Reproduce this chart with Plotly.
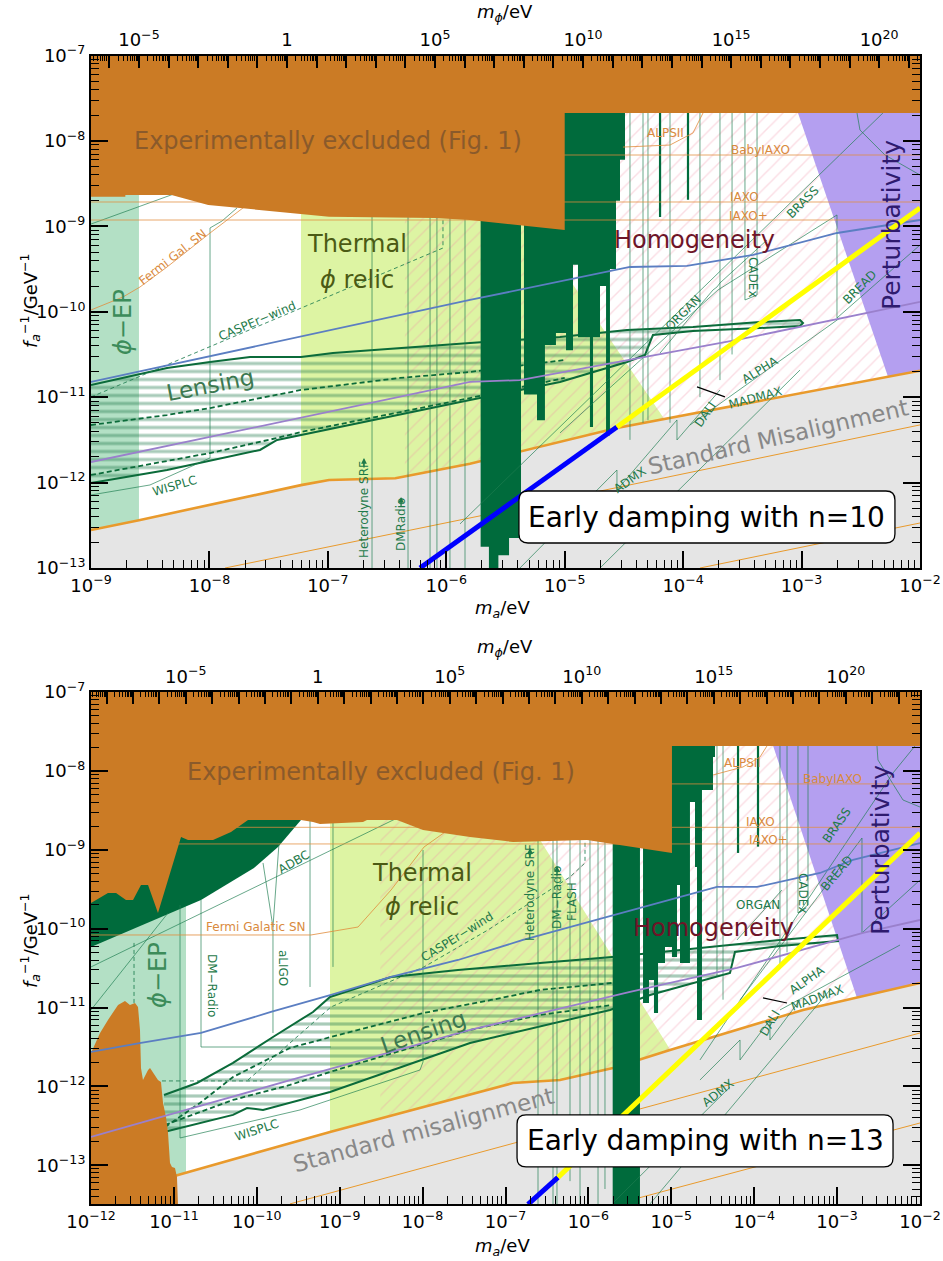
import numpy as np
import plotly.graph_objects as go

# All values are log10: lm = log10(m_a / eV), lf = log10(f_a^-1 / GeV^-1)

# ---------------- upper panel (n = 10) ----------------
TOP_XR, TOP_YR = (-9.0, -2.0), (-13.0, -7.0)
TOP_PHI = (4.0, 29.38)          # log10 m_phi = a * lm + b

TOP_EXCL_LM = [-9.0, -8.71, -8.71, -8.32, -8.01, -6.99, -6.10, -5.80, -5.00, -5.00, -2.0]
TOP_EXCL_LF = [-8.653, -8.653, -8.633, -8.633, -8.75, -8.887, -8.902, -8.926, -9.043, -7.673, -7.673]

TOP_MIS_LM = [-9.0, -8.595, -7.227, -6.99, -6.43, -5.80, -4.56, -2.0]
TOP_MIS_LF = [-12.555, -12.44, -12.03, -11.97, -11.95, -11.78, -11.36, -10.69]
TOP_THIN_A = ([-7.868, -5.80, -2.0], [-13.0, -12.414, -11.325])
TOP_THIN_B = ([-3.858, -2.0], [-13.0, -12.473])

TOP_EP = (-9.0, -8.595)
TOP_THERM_LM = [-7.227, -7.227, -6.245, -3.304]
TOP_THERM_LF = [-13.0, -7.0, -7.0, -13.0]
TOP_HOMOG_LEFT = -6.35
TOP_PERT_LM = [-3.196, -2.0, -2.0, -2.27]
TOP_PERT_LF = [-7.0, -7.0, -10.69, -10.76]

TOP_HALO_EDGES = [-5.710, -5.64, -5.56, -5.47, -5.369, -5.344, -5.234, -5.167, -5.074, -4.989,
                  -4.930, -4.888, -4.787, -4.761, -4.702, -4.651, -4.618, -4.567, -4.533, -4.491]
TOP_HALO_FLOORS = [-12.75, -13.0, -12.85, -12.65, -7.0, -10.97, -11.27, -10.39, -10.25,
                   -10.45, -9.45, -10.30, -11.35, -10.30, -9.70, -11.45, -9.50, -8.70, -8.22]
TOP_HALO_THIN = [(-4.195, -7.673, -8.89), (-3.959, -7.673, -8.69)]

TOP_LENS_LM = [-9.0, -8.358, -7.995, -7.657, -7.227, -6.957, -5.80, -5.04, -4.474, -3.917, -3.351,
               -3.013, -2.988, -3.013, -3.351, -3.917, -4.255, -4.322, -4.474, -5.04, -5.80, -7.227,
               -7.429, -7.573, -8.358, -9.0]
TOP_LENS_LF = [-10.857, -10.659, -10.588, -10.53, -10.53, -10.483, -10.366, -10.295, -10.213, -10.178,
               -10.12, -10.096, -10.131, -10.166, -10.19, -10.225, -10.272, -10.506, -10.588, -10.822,
               -11.033, -11.443, -11.501, -11.618, -11.853, -12.005]
TOP_DASH_A = ([-9.0, -8.358, -7.995, -7.227, -6.391, -5.80, -5.0],
              [-11.326, -11.209, -11.127, -10.916, -10.775, -10.705, -10.565])
TOP_DASH_B = ([-9.0, -7.995, -7.429, -7.227, -5.80, -5.0],
              [-11.911, -11.654, -11.478, -11.408, -11.01, -10.775])
TOP_CASPER = ([-9.0, -6.028, -6.028], [-10.998, -9.254, -8.891])
TOP_FERMI = ([-9.0, -8.73, -8.586, -8.358, -7.995, -7.717, -7.573],
             [-9.979, -9.827, -9.71, -9.476, -9.078, -8.785, -8.657])
TOP_WISPLC = ([-9.0, -8.502, -7.995, -7.995, -7.894, -7.767],
              [-12.145, -12.028, -11.712, -9.019, -8.938, -8.785])
TOP_ADBC = ([-9.0, -8.316, -7.8], [-8.973, -8.633, -8.37])
TOP_VERT = [(-6.627, -8.6, -13.0), (-6.323, -8.6, -13.0), (-6.137, -8.6, -13.0), (-6.079, -8.6, -13.0),
            (-5.969, -8.6, -13.0), (-5.842, -8.6, -13.0), (-4.449, -7.673, -11.5), (-4.339, -7.673, -11.3),
            (-4.297, -7.673, -11.27), (-4.111, -7.673, -11.3), (-3.858, -7.673, -11.0),
            (-3.689, -7.673, -10.8), (-3.587, -7.673, -10.5)]
TOP_PROJ = [
    ([-3.478, -3.478, -3.376, -3.376], [-7.673, -9.862, -9.804, -7.673]),          # CADEx
    ([-5.884, -2.313], [-12.484, -7.673]),                                          # BRASS
    ([-5.04, -3.706, -2.701, -2.701, -2.0], [-11.419, -9.745, -8.867, -10.073, -9.219]),  # BREAD
    ([-5.378, -4.559, -4.559, -4.052, -4.052, -3.689],
     [-13.0, -11.853, -12.087, -11.267, -11.501, -10.916]),                         # ADMX
    ([-4.702, -3.013], [-13.0, -10.682]),                                           # DALI
    ([-3.942, -2.676], [-11.326, -10.073]),                                         # ALPHA
    ([-4.195, -3.748, -3.714, -3.689, -3.292], [-10.483, -9.745, -9.71, -9.663, -9.16]),  # ORGAN
    ([-2.532, -2.507, -2.296, -2.0], [-7.673, -7.872, -8.165, -8.399]),
]
TOP_MADMAX_TICK = ([-3.883, -3.647], [-10.88, -10.997])
TOP_ALPS = ([-4.508, -4.111, -3.917, -3.832], [-8.072, -8.048, -7.907, -7.673])

TOP_BLUE = ([-9.0, -7.227, -5.80, -4.449, -3.968, -3.41, -2.70, -2.0],
            [-10.822, -10.295, -9.862, -9.476, -9.464, -9.335, -9.078, -8.926])
TOP_PURPLE = ([-9.0, -7.227, -5.80, -5.378, -4.474, -3.545, -2.0],
              [-11.759, -11.244, -10.822, -10.80, -10.565, -10.33, -9.885])
TOP_DAMP = ([-6.222, -4.559, -2.0], [-13.0, -11.35, -8.785])

# ---------------- lower panel (n = 13) ----------------
BOT_XR, BOT_YR = (-12.0, -2.0), (-13.49, -7.0)
BOT_PHI = (3.14, 29.09)

BOT_EXCL_LM = [-12.0, -11.795, -11.698, -11.578, -11.493, -11.397, -11.312, -11.192, -10.914, -10.83,
               -10.528, -10.311, -10.106, -9.467, -9.322, -9.238, -8.719, -8.671, -8.309, -7.995,
               -7.428, -6.909, -6.017, -4.992, -4.992, -2.0]
BOT_EXCL_LF = [-9.674, -9.548, -9.548, -9.636, -9.636, -9.446, -9.446, -9.801, -8.838, -8.876,
               -8.876, -8.774, -8.622, -8.622, -8.648, -8.673, -8.648, -8.622, -8.622, -8.749,
               -8.838, -8.901, -8.876, -9.041, -7.684, -7.684]
BOT_MOUNT_LM = [-12.0, -11.891, -11.795, -11.674, -11.590, -11.530, -11.469, -11.433, -11.409, -11.397,
                -11.373, -11.312, -11.288, -11.252, -11.192, -11.156, -11.131, -11.095, -11.071,
                -11.047, -11.023, -10.987, -10.963, -10.951, -12.0]
BOT_MOUNT_LF = [-11.575, -11.322, -11.157, -10.967, -10.916, -10.967, -10.942, -10.992, -11.284, -11.766,
                -11.918, -11.791, -11.766, -11.829, -11.918, -11.943, -12.209, -12.387, -12.589,
                -12.970, -13.02, -13.033, -13.147, -13.49, -13.49]
BOT_DGL_LM = [-12.0, -12.0, -10.673, -10.311, -10.034, -9.744, -9.467, -9.467]
BOT_DGL_LF = [-7.0, -10.232, -9.636, -9.408, -9.231, -8.965, -8.622, -7.0]

BOT_MIS_LM = [-12.0, -10.951, -9.117, -7.428, -6.909, -6.343, -5.703, -5.016, -4.208, -3.411, -2.0]
BOT_MIS_LF = [-13.464, -13.122, -12.577, -12.108, -11.956, -11.918, -11.766, -11.537, -11.284, -11.03, -10.688]
BOT_THIN_A = ([-9.6, -7.428, -2.0], [-13.489, -12.868, -11.322])
BOT_THIN_B = ([-5.703, -2.0], [-13.5, -12.463])

BOT_EP = (-12.0, -10.854)
BOT_THERM_LM = [-9.117, -9.117, -7.689, -3.859]
BOT_THERM_LF = [-13.49, -7.0, -7.0, -13.49]
BOT_HOMOG_LEFT = -8.51
BOT_PERT_LM = [-3.988, -2.0, -2.0, -2.76]
BOT_PERT_LF = [-7.0, -7.0, -10.688, -10.88]

BOT_HALO_EDGES = [-5.707, -5.378, -5.341, -5.269, -5.209, -5.160, -5.076, -4.992, -4.931, -4.895,
                  -4.775, -4.714, -4.690, -4.630, -4.497, -4.473]
BOT_HALO_FLOORS = [-13.49, -7.0, -10.942, -10.65, -11.068, -10.435, -10.232, -10.359, -9.446,
                   -10.435, -8.394, -9.218, -11.157, -8.242, -7.824]
BOT_HALO_THIN = [(-4.195, -7.684, -9.04), (-3.954, -7.684, -8.96)]

BOT_LENS_LM = [-11.119, -10.721, -10.287, -9.805, -9.322, -9.117, -8.381, -7.573, -6.584, -5.715, -4.654,
               -3.689, -3.001, -2.989, -3.689, -4.232, -4.292, -5.257, -5.739, -7.428, -9.117, -9.805,
               -9.925, -10.118, -10.287, -11.119]
BOT_LENS_LF = [-12.108, -11.956, -11.702, -11.373, -11.056, -10.866, -10.612, -10.523, -10.435, -10.359,
               -10.245, -10.143, -10.08, -10.156, -10.219, -10.295, -10.561, -10.84, -11.03, -11.449,
               -12.07, -12.26, -12.298, -12.273, -12.361, -12.577]
BOT_DASH_A = ([-11.107, -10.685, -10.287, -9.6, -9.105, -7.983, -7.175, -6.584, -5.715],
              [-12.514, -12.209, -11.88, -11.512, -11.373, -11.068, -10.904, -10.777, -10.688])
BOT_DASH_B = ([-11.107, -10.287, -9.6, -9.117, -7.428, -6.584, -5.715],
              [-12.488, -12.171, -11.981, -11.816, -11.284, -11.094, -10.967])
BOT_CASPER = ([-10.106, -9.105, -7.983, -7.211, -6.222, -6.041, -6.041],
              [-11.918, -10.992, -10.485, -10.016, -9.345, -9.167, -8.838])
BOT_DASH_EXTRA = [([-11.481, -11.481], [-10.181, -10.942]), ([-11.144, -9.925], [-11.93, -11.93])]
BOT_FERMI = ([-12.0, -9.346, -8.779, -8.381, -7.983, -7.694, -7.5],
             [-10.08, -10.08, -9.979, -9.51, -8.965, -8.749, -8.55])
BOT_WISPLC = ([-10.926, -10.926, -9.479, -8.031, -7.995, -7.995],
              [-9.7, -12.653, -12.298, -11.791, -11.69, -9.003])
BOT_ADBC = ([-12.0, -8.345, -7.9], [-10.485, -8.622, -8.39])
BOT_VERT = [(-9.358, -8.6, -10.739), (-9.081, -8.6, -10.485), (-6.608, -8.7, -13.49), (-6.427, -8.7, -13.49),
            (-6.379, -8.7, -13.49), (-6.222, -8.7, -13.2), (-6.101, -8.7, -13.49), (-5.981, -8.7, -13.0),
            (-5.884, -8.7, -13.49), (-5.80, -8.7, -13.3), (-4.449, -7.684, -10.6), (-4.376, -7.684, -10.9),
            (-3.689, -7.684, -10.5), (-3.604, -7.684, -10.3)]
BOT_PROJ = [
    ([-12.0, -11.071], [-11.03, -9.801]),
    ([-9.925, -9.805, -9.732], [-9.167, -9.979, -8.914]),                          # aLIGO
    ([-9.805, -9.805], [-9.979, -11.322]),
    ([-10.673, -10.673, -9.105], [-9.636, -11.5, -11.5]),                           # DM-Radio
    ([-3.472, -3.472, -3.351, -3.351], [-7.684, -9.801, -9.7, -7.684]),             # CADEx
    ([-4.654, -2.326, -2.06], [-11.664, -8.027, -7.684]),                           # BRASS
    ([-4.171, -2.7, -2.7, -2.0], [-10.904, -8.851, -10.054, -9.383]),               # BREAD
    ([-4.654, -4.171, -4.171, -3.81, -3.81, -3.448],
     [-11.918, -11.411, -11.664, -11.157, -11.411, -10.904]),                      # ADMX
    ([-5.703, -4.292], [-13.476, -12.006]),
    ([-5.257, -3.086], [-13.489, -10.777]),                                         # DALI
    ([-3.689, -2.241], [-11.03, -10.207]),                                          # ALPHA
    ([-4.208, -3.665], [-10.143, -9.51]),                                           # ORGAN
    ([-2.519, -2.507, -2.205, -2.0], [-7.684, -7.862, -8.369, -8.458]),
]
BOT_MADMAX_TICK = ([-3.894, -3.604], [-10.878, -10.942])
BOT_ALPS = ([-4.497, -4.135, -3.93, -3.846], [-8.052, -7.95, -7.824, -7.684])

BOT_BLUE = ([-12.0, -11.397, -10.673, -9.829, -9.105, -8.381, -7.573, -7.175, -6.789, -4.449, -3.966,
             -3.206, -2.808, -2.0],
            [-11.563, -11.449, -11.322, -11.056, -10.84, -10.612, -10.397, -10.27, -10.143, -9.471,
             -9.471, -9.294, -9.129, -8.914])
BOT_PURPLE = ([-12.0, -9.587, -7.428, -5.498, -4.208, -2.688, -2.0],
              [-12.64, -11.918, -11.284, -10.802, -10.498, -10.054, -9.89])
BOT_DAMP = ([-6.729, -6.367, -2.0], [-13.494, -13.152, -8.787])

# helioscope sensitivities (BabyIAXO, IAXO, IAXO+)
IAXO_LF = [-8.165, -8.715, -8.926]

# ---------------- styling ----------------
C_EXCL = "#CB7B25"
C_HALO = "#006B3C"
C_EP = "#B3E0C5"
C_THERM = "#DDF4A3"
C_GREY = "#E5E5E5"
C_PERT = "#B49FF0"
C_MIS = "#E99A2C"
C_BLUE = "#5B7EC2"
C_PURP = "#9A80CC"
C_LENS = "#0B6B3A"
C_PROJ = "rgba(30,125,80,0.75)"
C_GLAB = "#1E7A4A"
C_OLAB = "#D98A3D"
FONT = "DejaVu Sans"

W, H = 943, 1261
XD = [91 / W, 920 / W]
TOP_YD = [1 - 568 / H, 1 - 55.5 / H]
BOT_YD = [1 - 1204 / H, 1 - 692 / H]

fig = go.Figure()
annotations = []
shapes = []


def P(v):
    return [None if a is None else 10.0 ** a for a in v]


def area(ax, lm, lf, color, pattern=None):
    kw = dict(x=P(lm), y=P(lf), mode="lines", fill="toself", fillcolor=color,
              line=dict(width=0), hoverinfo="skip", showlegend=False, xaxis=ax[0], yaxis=ax[1])
    if pattern is not None:
        kw["fillpattern"] = pattern
    fig.add_trace(go.Scatter(**kw))


def curve(ax, lm, lf, color, width, dash=None):
    fig.add_trace(go.Scatter(x=P(lm), y=P(lf), mode="lines",
                             line=dict(color=color, width=width, dash=dash),
                             hoverinfo="skip", showlegend=False, xaxis=ax[0], yaxis=ax[1]))


def join(polys):
    xs, ys = [], []
    for lm, lf in polys:
        xs += list(lm) + [None]
        ys += list(lf) + [None]
    return xs, ys


def verticals(items):
    return join([([m, m], [a, b]) for m, a, b in items])


def steps(edges, floors, ceil):
    xs, ys = [], []
    for i, f in enumerate(floors):
        xs += [edges[i], edges[i + 1]]
        ys += [f, f]
    return xs + [edges[-1], edges[0]], ys + [ceil, ceil]


def label(ax, lm, lf, text, size, color, angle=0, **kw):
    d = dict(x=lm, y=lf, xref=ax[0], yref=ax[1], text=text, showarrow=False, textangle=angle,
             font=dict(family=FONT, size=size, color=color), xanchor="center", yanchor="middle")
    d.update(kw)
    annotations.append(d)


def arrow(ax, lm, lf):
    annotations.append(dict(x=lm, y=lf, xref=ax[0], yref=ax[1], text="", showarrow=True,
                            arrowhead=2, arrowsize=0.9, arrowwidth=1.3, arrowcolor=C_GLAB,
                            ax=0, ay=11))


def boxed(ax, lm, lf, text, xr, yr, yd, half_w=188, half_h=26, r=9):
    """Label inside a rounded white box centred on (lm, lf)."""
    px = XD[0] + (lm - xr[0]) / (xr[1] - xr[0]) * (XD[1] - XD[0])
    py = yd[0] + (lf - yr[0]) / (yr[1] - yr[0]) * (yd[1] - yd[0])
    w, h = half_w, half_h
    path = (f"M {-w + r},{-h} L {w - r},{-h} Q {w},{-h} {w},{-h + r} L {w},{h - r} "
            f"Q {w},{h} {w - r},{h} L {-w + r},{h} Q {-w},{h} {-w},{h - r} "
            f"L {-w},{-h + r} Q {-w},{-h} {-w + r},{-h} Z")
    shapes.append(dict(type="path", xref="paper", yref="paper", xsizemode="pixel",
                       ysizemode="pixel", xanchor=px, yanchor=py, path=path,
                       fillcolor="white", line=dict(color="black", width=1.3), layer="above"))
    label(ax, lm, lf, text, 28, "black")


def panel(ax, d):
    xr, yr = d["xr"], d["yr"]
    top, bot = yr[1], yr[0]
    # background regions
    area(ax, [d["ep"][0], d["ep"][1], d["ep"][1], d["ep"][0]], [bot, bot, top, top], C_EP)
    area(ax, d["therm"][0], d["therm"][1], C_THERM)
    mlm, mlf = d["mis"]
    left = d["homog"]
    keep = [(a, b) for a, b in zip(mlm, mlf) if a > left]
    hx = [left, left] + [a for a, _ in keep] + [xr[1]]
    hy = [top, float(np.interp(left, mlm, mlf))] + [b for _, b in keep] + [top]
    area(ax, hx, hy, "rgba(0,0,0,0)",
         dict(shape="/", fgcolor="rgba(240,140,165,0.6)", bgcolor="rgba(0,0,0,0)",
              size=10, solidity=0.14))
    area(ax, d["pert"][0], d["pert"][1], C_PERT)
    area(ax, list(mlm) + [mlm[-1], mlm[0]], list(mlf) + [bot - 0.1, bot - 0.1], C_GREY)
    # misalignment band lines
    curve(ax, *d["thin_a"], C_MIS, 1.0)
    curve(ax, *d["thin_b"], C_MIS, 1.0)
    curve(ax, mlm, mlf, C_MIS, 2.6)
    # lensing
    area(ax, d["lens"][0], d["lens"][1], "rgba(0,0,0,0)",
         dict(shape="-", fgcolor="rgba(40,125,80,0.8)", bgcolor="rgba(0,0,0,0)",
              size=8, solidity=0.4))
    curve(ax, d["lens"][0], d["lens"][1], C_LENS, 2.0)
    for dl in d["dash"]:
        curve(ax, *dl, C_LENS, 1.8, "5px,3px")
    # haloscopes
    hx, hy = steps(d["halo_e"], d["halo_f"], top)
    area(ax, hx, hy, C_HALO)
    if "dgl" in d:
        area(ax, d["dgl"][0], d["dgl"][1], C_HALO)
    # projections
    vx, vy = verticals(d["vert"])
    curve(ax, vx, vy, C_PROJ, 0.9)
    px, py = join(d["proj"])
    curve(ax, px, py, C_PROJ, 0.9)
    curve(ax, *d["casper"], "rgba(30,125,80,0.85)", 1.0, "4px,3px")
    for dl in d.get("dash_extra", []):
        curve(ax, *dl, "rgba(30,125,80,0.85)", 1.0, "4px,3px")
    curve(ax, *d["wisplc"], C_PROJ, 0.9)
    curve(ax, *d["adbc"], C_PROJ, 0.9)
    tx, ty = verticals(d["halo_thin"])
    curve(ax, tx, ty, C_HALO, 2.2)
    ix, iy = join([([xr[0], xr[1]], [v, v]) for v in IAXO_LF])
    curve(ax, ix, iy, "rgba(225,140,60,0.75)", 1.0)
    curve(ax, *d["alps"], "rgba(225,140,60,0.8)", 1.0)
    curve(ax, *d["fermi"], "rgba(225,140,60,0.8)", 1.0)
    curve(ax, *d["madmax"], "black", 1.2)
    if "mount" in d:
        area(ax, d["mount"][0], d["mount"][1], C_EXCL)
    # theory lines
    curve(ax, *d["blue"], C_BLUE, 1.8)
    curve(ax, *d["purple"], C_PURP, 1.8)
    dm, df = d["damp"]
    curve(ax, dm[:2], df[:2], "#0000FF", 5)
    curve(ax, dm[1:], df[1:], "#FFFF00", 5)
    # experimental exclusions on top
    ex, ey = d["excl"]
    area(ax, list(ex) + [ex[-1], ex[0]], list(ey) + [top + 0.1, top + 0.1], C_EXCL)


TOP = dict(xr=TOP_XR, yr=TOP_YR, ep=TOP_EP, therm=(TOP_THERM_LM, TOP_THERM_LF),
           mis=(TOP_MIS_LM, TOP_MIS_LF), homog=TOP_HOMOG_LEFT, pert=(TOP_PERT_LM, TOP_PERT_LF),
           thin_a=TOP_THIN_A, thin_b=TOP_THIN_B, lens=(TOP_LENS_LM, TOP_LENS_LF),
           dash=[TOP_DASH_A, TOP_DASH_B], halo_e=TOP_HALO_EDGES, halo_f=TOP_HALO_FLOORS,
           vert=TOP_VERT, proj=TOP_PROJ, casper=TOP_CASPER, wisplc=TOP_WISPLC, adbc=TOP_ADBC,
           halo_thin=TOP_HALO_THIN, alps=TOP_ALPS, fermi=TOP_FERMI, madmax=TOP_MADMAX_TICK,
           blue=TOP_BLUE, purple=TOP_PURPLE, damp=TOP_DAMP, excl=(TOP_EXCL_LM, TOP_EXCL_LF))
BOT = dict(xr=BOT_XR, yr=BOT_YR, ep=BOT_EP, therm=(BOT_THERM_LM, BOT_THERM_LF),
           mis=(BOT_MIS_LM, BOT_MIS_LF), homog=BOT_HOMOG_LEFT, pert=(BOT_PERT_LM, BOT_PERT_LF),
           thin_a=BOT_THIN_A, thin_b=BOT_THIN_B, lens=(BOT_LENS_LM, BOT_LENS_LF),
           dash=[BOT_DASH_A, BOT_DASH_B], halo_e=BOT_HALO_EDGES, halo_f=BOT_HALO_FLOORS,
           dgl=(BOT_DGL_LM, BOT_DGL_LF), vert=BOT_VERT, proj=BOT_PROJ, casper=BOT_CASPER,
           dash_extra=BOT_DASH_EXTRA, wisplc=BOT_WISPLC, adbc=BOT_ADBC, halo_thin=BOT_HALO_THIN,
           alps=BOT_ALPS, fermi=BOT_FERMI, madmax=BOT_MADMAX_TICK, mount=(BOT_MOUNT_LM, BOT_MOUNT_LF),
           blue=BOT_BLUE, purple=BOT_PURPLE, damp=BOT_DAMP, excl=(BOT_EXCL_LM, BOT_EXCL_LF))

AX_T, AX_B = ("x", "y"), ("x2", "y2")
panel(AX_T, TOP)
panel(AX_B, BOT)


def phi_range(xr, ab):
    return ab[0] * xr[0] + ab[1], ab[0] * xr[1] + ab[1]


# invisible anchors so the m_phi axes get drawn with their ticks
for ax, xr, yr, ab in [(("x3", "y"), TOP_XR, TOP_YR, TOP_PHI), (("x5", "y"), TOP_XR, TOP_YR, TOP_PHI),
                       (("x4", "y2"), BOT_XR, BOT_YR, BOT_PHI), (("x6", "y2"), BOT_XR, BOT_YR, BOT_PHI)]:
    fig.add_trace(go.Scatter(x=P(phi_range(xr, ab)), y=P([yr[1], yr[1]]), mode="markers",
                             marker=dict(opacity=0, size=1), hoverinfo="skip", showlegend=False,
                             xaxis=ax[0], yaxis=ax[1]))

# ---------------- labels, upper panel ----------------
label(AX_T, -7.0, -8.0, "Experimentally excluded (Fig. 1)", 24, "#8A5A2B")
label(AX_T, -6.754, -9.207, "Thermal", 24, "#4B5A14")
label(AX_T, -6.754, -9.628, "<i>ϕ</i> relic", 24, "#4B5A14")
label(AX_T, -8.73, -10.12, "<i>ϕ</i>−EP", 24, "#3C8C5A", -90)
label(AX_T, -7.995, -10.86, "Lensing", 23, "#3C7850", -11)
label(AX_T, -3.9, -9.16, "Homogeneity", 24, "#6E1428")
label(AX_T, -2.245, -8.985, "Perturbativity", 25, "#2E1A6E", -90)
label(AX_T, -3.199, -11.466, "Standard Misalignment", 23, "#888888", -13)
label(AX_T, -7.598, -10.108, "CASPEr−wind", 12, C_GLAB, -23)
label(AX_T, -8.308, -9.36, "Fermi Gal. SN", 12, C_OLAB, -38)
label(AX_T, -8.299, -12.04, "WISPLC", 12, C_GLAB, -16)
label(AX_T, -6.695, -12.309, "Heterodyne SRF", 12, C_GLAB, -90)
label(AX_T, -6.382, -12.496, "DMRadio", 12, C_GLAB, -90)
arrow(AX_T, -6.695, -11.712)
arrow(AX_T, -6.382, -12.168)
label(AX_T, -4.001, -10.012, "ORGAN", 12, C_GLAB, -45)
label(AX_T, -3.41, -9.593, "CADEx", 12, C_GLAB, 90)
label(AX_T, -2.988, -8.715, "BRASS", 12, C_GLAB, -45)
label(AX_T, -2.507, -9.71, "BREAD", 12, C_GLAB, -45)
label(AX_T, -3.351, -10.68, "ALPHA", 12, C_GLAB, -32)
label(AX_T, -3.393, -11.01, "MADMAX", 12, C_GLAB, -15)
label(AX_T, -3.815, -11.209, "DALI", 12, C_GLAB, -55)
label(AX_T, -4.449, -11.97, "ADMX", 12, C_GLAB, -35)
label(AX_T, -4.153, -7.907, "ALPSII", 12, C_OLAB)
label(AX_T, -3.351, -8.106, "BabyIAXO", 12, C_OLAB)
label(AX_T, -3.478, -8.657, "IAXO", 12, C_OLAB)
label(AX_T, -3.452, -8.879, "IAXO+", 12, C_OLAB)
boxed(AX_T, -3.799, -12.403, "Early damping with n=10", TOP_XR, TOP_YR, TOP_YD)

# ---------------- labels, lower panel ----------------
label(AX_B, -8.502, -8.014, "Experimentally excluded (Fig. 1)", 24, "#8A5A2B")
label(AX_B, -8.007, -9.294, "Thermal", 24, "#4B5A14")
label(AX_B, -8.007, -9.725, "<i>ϕ</i> relic", 24, "#4B5A14")
label(AX_B, -11.192, -10.587, "<i>ϕ</i>−EP", 24, "#3C8C5A", -90)
label(AX_B, -7.995, -11.309, "Lensing", 23, "#3C7850", -19)
label(AX_B, -4.497, -9.991, "Homogeneity", 24, "#6E1428")
label(AX_B, -2.483, -9.003, "Perturbativity", 25, "#2E1A6E", -90)
label(AX_B, -7.995, -12.551, "Standard misalignment", 23, "#888888", -15)
label(AX_B, -7.585, -10.105, "CASPEr−wind", 12, C_GLAB, -32)
label(AX_B, -10.01, -9.979, "Fermi Galatic SN", 12, C_OLAB)
label(AX_B, -9.551, -9.155, "ADBC", 12, C_GLAB, -30)
label(AX_B, -10.54, -10.714, "DM−Radio", 12, C_GLAB, 90)
label(AX_B, -9.684, -10.498, "aLIGO", 12, C_GLAB, 90)
label(AX_B, -9.998, -12.551, "WISPLC", 12, C_GLAB, -18)
label(AX_B, -6.704, -9.548, "Heterodyne SRF", 12, C_GLAB, -90)
label(AX_B, -6.379, -9.598, "DM−Radio", 12, C_GLAB, -90)
label(AX_B, -6.198, -9.649, "FLASH", 12, C_GLAB, -90)
arrow(AX_B, -6.704, -8.977)
arrow(AX_B, -6.379, -9.205)
label(AX_B, -3.954, -9.7, "ORGAN", 12, C_GLAB)
label(AX_B, -3.411, -9.548, "CADEx", 12, C_GLAB, 90)
label(AX_B, -3.001, -8.686, "BRASS", 12, C_GLAB, -55)
label(AX_B, -3.001, -9.294, "BREAD", 12, C_GLAB, -50)
label(AX_B, -3.363, -10.65, "ALPHA", 12, C_GLAB, -35)
label(AX_B, -3.242, -10.878, "MADMAX", 12, C_GLAB, -20)
label(AX_B, -3.81, -11.195, "DALI", 12, C_GLAB, -60)
label(AX_B, -4.437, -12.082, "ADMX", 12, C_GLAB, -38)
label(AX_B, -4.147, -7.9, "ALPSII", 12, C_OLAB)
label(AX_B, -3.05, -8.103, "BabyIAXO", 12, C_OLAB)
label(AX_B, -3.93, -8.648, "IAXO", 12, C_OLAB)
label(AX_B, -3.833, -8.876, "IAXO+", 12, C_OLAB)
boxed(AX_B, -4.593, -12.691, "Early damping with n=13", BOT_XR, BOT_YR, BOT_YD)

# ---------------- axis titles ----------------
MA = "<i>m</i><sub><i>a</i></sub>/eV"
MPHI = "<i>m</i><sub><i>ϕ</i></sub>/eV"
FA = "<i>f</i><sub><i>a</i></sub><sup>−1</sup>/GeV<sup>−1</sup>"
for txt, px, py, ang in [(MPHI, 505, 13, 0), (MA, 503, 609, 0), (MPHI, 505, 648, 0),
                         (MA, 503, 1247, 0), (FA, 30, 300, -90), (FA, 30, 940, -90)]:
    annotations.append(dict(x=px / W, y=1 - py / H, xref="paper", yref="paper", text=txt,
                            showarrow=False, textangle=ang, xanchor="center", yanchor="middle",
                            font=dict(family=FONT, size=18, color="black")))


# ---------------- axes ----------------
def sup(d):
    if d == 0:
        return "1"
    return "10<sup>" + str(d).replace("-", "−") + "</sup>"


def base_axis(lo, hi):
    return dict(type="log", range=[lo, hi], showgrid=False, zeroline=False, automargin=False,
                linecolor="black", linewidth=2, ticks="inside", tickcolor="black",
                tickmode="array", tickfont=dict(family=FONT, size=18, color="black"))


def decades(lo, hi):
    return list(range(int(np.ceil(lo - 1e-9)), int(np.floor(hi + 1e-9)) + 1))


def sub_decade(lo, hi):
    return [k * 10.0 ** d for d in range(int(np.floor(lo)), int(np.ceil(hi)))
            for k in range(2, 10) if lo <= np.log10(k * 10.0 ** d) <= hi]


def log_axis(lo, hi):
    ds = decades(lo, hi)
    a = base_axis(lo, hi)
    a.update(showline=True, ticklen=17, tickwidth=1.5,
             tickvals=[10.0 ** d for d in ds], ticktext=[sup(d) for d in ds],
             minor=dict(tickvals=sub_decade(lo, hi), ticks="inside", ticklen=8, tickwidth=1,
                        tickcolor="black", showgrid=False))
    return a


def phi_axis(lo, hi):
    ds = decades(lo, hi)
    labelled = [d for d in ds if d % 5 == 0]
    a = base_axis(lo, hi)
    a.update(showline=True, ticklen=12, tickwidth=1.5,
             tickvals=[10.0 ** d for d in labelled], ticktext=[sup(d) for d in labelled],
             minor=dict(tickvals=[10.0 ** d for d in ds if d % 5 != 0], ticks="inside",
                        ticklen=12, tickwidth=1.5, tickcolor="black", showgrid=False))
    return a


def phi_small_axis(lo, hi):
    a = base_axis(lo, hi)
    a.update(showline=False, showticklabels=False, ticklen=5, tickwidth=1,
             tickvals=sub_decade(lo, hi))
    return a


lay = dict(
    xaxis=dict(log_axis(*TOP_XR), domain=XD, anchor="y", mirror=True),
    yaxis=dict(log_axis(*TOP_YR), domain=TOP_YD, anchor="x", mirror="ticks"),
    xaxis2=dict(log_axis(*BOT_XR), domain=XD, anchor="y2", mirror=True),
    yaxis2=dict(log_axis(*BOT_YR), domain=BOT_YD, anchor="x2", mirror="ticks"),
    xaxis3=dict(phi_axis(*phi_range(TOP_XR, TOP_PHI)), overlaying="x", side="top", anchor="y"),
    xaxis5=dict(phi_small_axis(*phi_range(TOP_XR, TOP_PHI)), overlaying="x", side="top", anchor="y"),
    xaxis4=dict(phi_axis(*phi_range(BOT_XR, BOT_PHI)), overlaying="x2", side="top", anchor="y2"),
    xaxis6=dict(phi_small_axis(*phi_range(BOT_XR, BOT_PHI)), overlaying="x2", side="top", anchor="y2"),
)
fig.update_layout(**lay)
fig.update_layout(width=W, height=H, margin=dict(l=0, r=0, t=0, b=0, autoexpand=False),
                  paper_bgcolor="white", plot_bgcolor="white", showlegend=False,
                  annotations=annotations, shapes=shapes, font=dict(family=FONT))
fig.write_html("out.html")
